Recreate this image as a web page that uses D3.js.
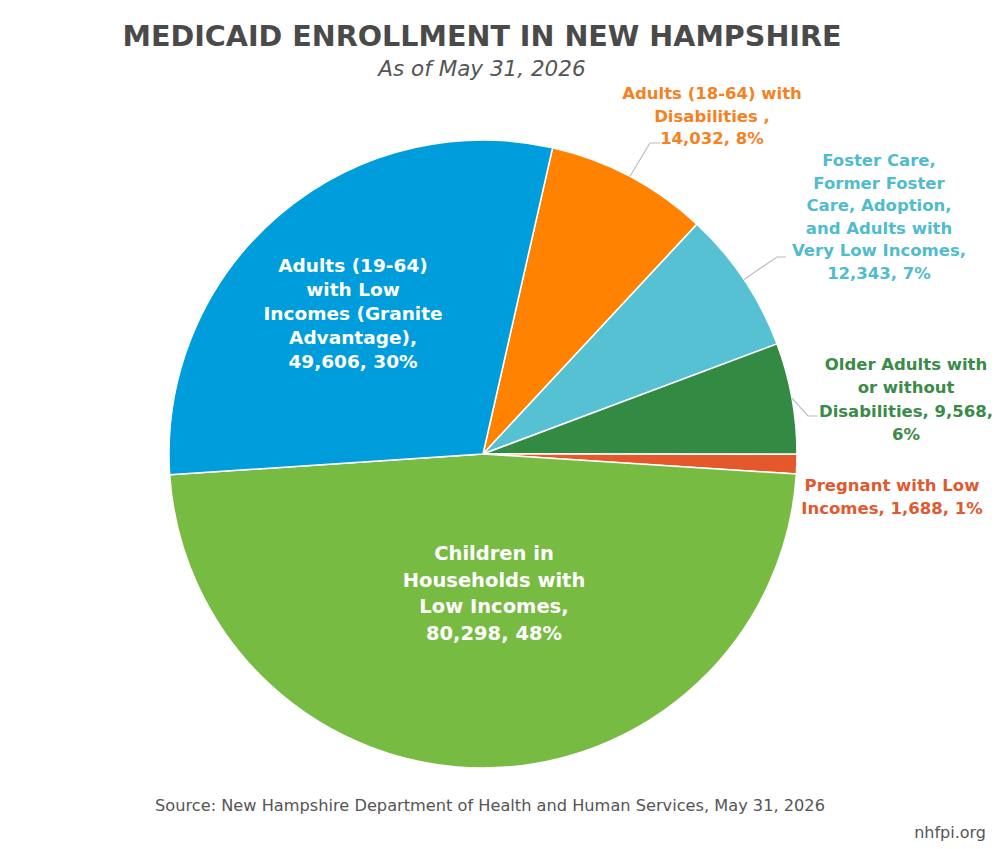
<!DOCTYPE html>
<html>
<head>
<meta charset="utf-8">
<script src="https://cdn.jsdelivr.net/npm/d3@7"></script>
<style>
  body { margin: 0; background: #fff; }
  svg { display: block; font-family: "DejaVu Sans", sans-serif; }
</style>
</head>
<body>
<svg id="chart" width="1000" height="849"></svg>
<script>
// enrollment groups, clockwise from the top
const categories = [
  "Adults (18-64) with Disabilities",
  "Foster Care, Former Foster Care, Adoption, and Adults with Very Low Incomes",
  "Older Adults with or without Disabilities",
  "Pregnant with Low Incomes",
  "Children in Households with Low Incomes",
  "Adults (19-64) with Low Incomes (Granite Advantage)"
]
const enrollment = [14032, 12343, 9568, 1688, 80298, 49606]
const percents = ["8%", "7%", "6%", "1%", "48%", "30%"]
const labelLines = [
  ["Adults (18-64) with", "Disabilities ,", "14,032, 8%"],
  ["Foster Care,", "Former Foster", "Care, Adoption,", "and Adults with", "Very Low Incomes,", "12,343, 7%"],
  ["Older Adults with", "or without", "Disabilities, 9,568,", "6%"],
  ["Pregnant with Low", "Incomes, 1,688, 1%"],
  ["Children in", "Households with", "Low Incomes,", "80,298, 48%"],
  ["Adults (19-64)", "with Low", "Incomes (Granite", "Advantage),", "49,606, 30%"]
]

const sliceColors = ["#ff8300", "#56c1d3", "#338a43", "#e4582b", "#78bb43", "#009ddc"]
const textColors = ["#f5821f", "#50bccd", "#3a8b48", "#e05a2f", "#ffffff", "#ffffff"]

// label layout: x, baseline of first line, line height, font size, leader elbow (if any)
const labelLayout = [
  { x: 712, y: 99, lh: 22.5, fs: 16.5, elbow: [650, 143], end: 660 },
  { x: 879, y: 166, lh: 22.6, fs: 16.5, elbow: [777, 257], end: 786 },
  { x: 906, y: 370, lh: 23.3, fs: 16.5, elbow: [808, 416], end: 818 },
  { x: 892, y: 491, lh: 23, fs: 16.5 },
  { x: 494, y: 560, lh: 26.7, fs: 19.5 },
  { x: 353, y: 272, lh: 24, fs: 18.5 }
]

const cx = 483, cy = 454, radius = 314
const startDeg = 12.8

const svg = d3.select("#chart")

svg.append("text")
  .attr("x", 482).attr("y", 46)
  .attr("text-anchor", "middle")
  .attr("fill", "#4a4a4a")
  .style("font-size", "28.6px")
  .style("font-weight", 700)
  .text("MEDICAID ENROLLMENT IN NEW HAMPSHIRE")

svg.append("text")
  .attr("x", 482).attr("y", 76)
  .attr("text-anchor", "middle")
  .attr("fill", "#555")
  .style("font-size", "21.5px")
  .style("font-style", "italic")
  .text("As of May 31, 2026")

const pie = d3.pie()
  .sort(null)
  .value(d => d)
  .startAngle(startDeg * Math.PI / 180)
  .endAngle(startDeg * Math.PI / 180 + 2 * Math.PI)

const arcs = pie(enrollment)
const arc = d3.arc().innerRadius(0).outerRadius(radius)

const g = svg.append("g").attr("transform", `translate(${cx},${cy})`)

g.selectAll("path")
  .data(arcs)
  .enter().append("path")
  .attr("d", arc)
  .attr("fill", (d, i) => sliceColors[i])
  .attr("stroke", "#fff")
  .attr("stroke-width", 1.5)

// leader lines from the slice edge to the outside labels
arcs.forEach((d, i) => {
  const lay = labelLayout[i]
  if (!lay.elbow) return
  const mid = (d.startAngle + d.endAngle) / 2
  const sx = cx + radius * Math.sin(mid)
  const sy = cy - radius * Math.cos(mid)
  svg.append("polyline")
    .attr("points", [[sx, sy], lay.elbow, [lay.end, lay.elbow[1]]].map(p => p.join(",")).join(" "))
    .attr("fill", "none")
    .attr("stroke", "#bdbdbd")
    .attr("stroke-width", 1.2)
})

labelLines.forEach((lines, i) => {
  const lay = labelLayout[i]
  const t = svg.append("text")
    .attr("text-anchor", "middle")
    .attr("fill", textColors[i])
    .style("font-size", lay.fs + "px")
    .style("font-weight", 700)
  lines.forEach((line, j) => {
    t.append("tspan")
      .attr("x", lay.x)
      .attr("y", lay.y + j * lay.lh)
      .text(line)
  })
})

svg.append("text")
  .attr("x", 490).attr("y", 811)
  .attr("text-anchor", "middle")
  .attr("fill", "#555")
  .style("font-size", "16.2px")
  .text("Source: New Hampshire Department of Health and Human Services, May 31, 2026")

svg.append("text")
  .attr("x", 986).attr("y", 838)
  .attr("text-anchor", "end")
  .attr("fill", "#555")
  .style("font-size", "16px")
  .text("nhfpi.org")
</script>
</body>
</html>
